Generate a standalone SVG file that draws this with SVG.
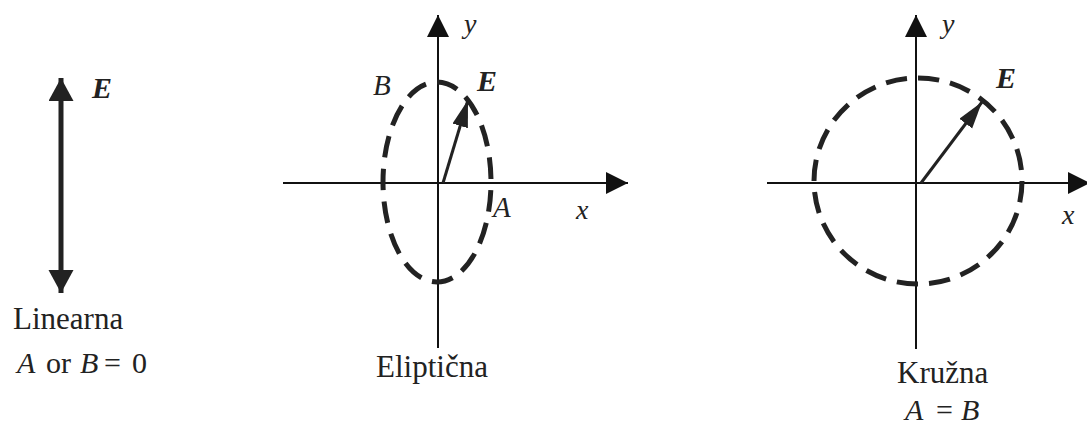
<svg xmlns="http://www.w3.org/2000/svg" width="1087" height="424" viewBox="0 0 1087 424">
<style>
.axis{stroke:#111;stroke-width:2;fill:none}
.dash{stroke:#222;stroke-width:5;fill:none;stroke-dasharray:21 11}
.vec{stroke:#222;stroke-width:3;fill:none}
.lbl{font-family:"Liberation Serif","DejaVu Serif",serif;fill:#222}
.it{font-style:italic}
.bi{font-style:italic;font-weight:bold}
</style>
<defs>
<marker id="ax" markerUnits="userSpaceOnUse" markerWidth="23" markerHeight="23" refX="22" refY="11" orient="auto"><path d="M0,0 L22,11 L0,22 z" fill="#111"/></marker>
<marker id="lin" markerUnits="userSpaceOnUse" markerWidth="25" markerHeight="26" refX="23" refY="12.5" orient="auto-start-reverse"><path d="M0,0 L23,12.5 L0,25 z" fill="#222"/></marker>
<marker id="ev" markerUnits="userSpaceOnUse" markerWidth="28" markerHeight="18" refX="27" refY="8" orient="auto"><path d="M0,0 L27,8 L0,16 z" fill="#222"/></marker>
</defs>

<g id="linear">
<line x1="61" y1="78" x2="61" y2="293" stroke="#222" stroke-width="5" marker-start="url(#lin)" marker-end="url(#lin)"/>
<text class="lbl bi" x="92" y="98" font-size="30">E</text>
<text class="lbl" x="13" y="329" font-size="31">Linearna</text>
<text class="lbl" y="373" font-size="30"><tspan class="it" x="17">A</tspan><tspan x="46">or</tspan><tspan class="it" x="80">B</tspan><tspan x="104">=</tspan><tspan x="132">0</tspan></text>
</g>

<g id="elliptic">
<g class="connectors">
<line class="axis" x1="283" y1="183" x2="628" y2="183" marker-end="url(#ax)"/>
<line class="axis" x1="438" y1="348" x2="438" y2="15" marker-end="url(#ax)"/>
<line class="vec" x1="443" y1="183" x2="468" y2="100" marker-end="url(#ev)"/>
</g>
<path class="dash" pathLength="480" d="M437,82 A54,100 0 1,1 437,282 A54,100 0 1,1 437,82"/>
<text class="lbl it" x="464" y="33" font-size="28">y</text>
<text class="lbl it" x="576" y="219" font-size="28">x</text>
<text class="lbl it" x="373" y="95" font-size="29">B</text>
<text class="lbl it" x="493" y="217" font-size="29">A</text>
<text class="lbl bi" x="477" y="91" font-size="30">E</text>
<text class="lbl" x="376" y="377" font-size="31">Eliptična</text>
</g>

<g id="circular">
<g class="connectors">
<line class="axis" x1="767" y1="183" x2="1090" y2="183" marker-end="url(#ax)"/>
<line class="axis" x1="916" y1="349" x2="916" y2="15" marker-end="url(#ax)"/>
<line class="vec" x1="921" y1="183" x2="982" y2="102" marker-end="url(#ev)"/>
</g>
<path class="dash" pathLength="640" d="M918,78 A104,103 0 1,1 918,284 A104,103 0 1,1 918,78"/>
<text class="lbl it" x="942" y="33" font-size="28">y</text>
<text class="lbl it" x="1062" y="224" font-size="28">x</text>
<text class="lbl bi" x="996" y="88" font-size="30">E</text>
<text class="lbl" x="897" y="383" font-size="31">Kružna</text>
<text class="lbl" y="420" font-size="30"><tspan class="it" x="905">A</tspan><tspan x="936">=</tspan><tspan class="it" x="961">B</tspan></text>
</g>
</svg>
